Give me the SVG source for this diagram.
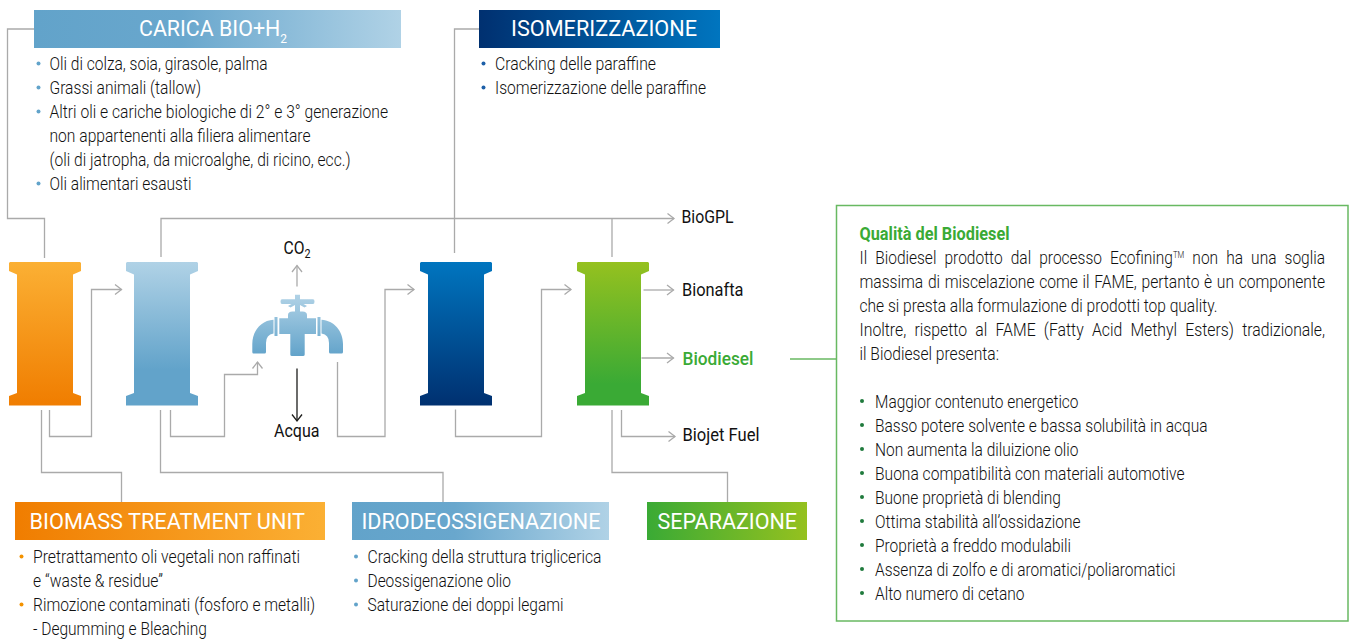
<svg xmlns="http://www.w3.org/2000/svg" width="1354" height="642" viewBox="0 0 1354 642">
<style>
text{font-family:"Roboto","Liberation Sans",sans-serif;fill:#111}
.l{font-size:18px;font-weight:300}
.h{font-size:21.5px;font-weight:400;fill:#fff}
.p{font-size:17.5px;font-weight:400}
.b{fill:none;stroke:#aaa;stroke-width:1.3}
.k{fill:none;stroke:#1d1d1b;stroke-width:1.3}
.g{fill:none;stroke:#68b962;stroke-width:1.5}
.sub{font-size:12px}
</style>
<defs>
<marker id="a" markerWidth="12" markerHeight="12" refX="8" refY="6" orient="auto" markerUnits="userSpaceOnUse" viewBox="0 0 12 12"><path d="M1.500 1L8 6L1.500 11" fill="none" stroke="#aaa" stroke-width="1.3"/></marker>
<marker id="ak" markerWidth="12" markerHeight="12" refX="8" refY="6" orient="auto" markerUnits="userSpaceOnUse" viewBox="0 0 12 12"><path d="M1.500 1L8 6L1.500 11" fill="none" stroke="#1d1d1b" stroke-width="1.3"/></marker>
<linearGradient id="vo" x1="0" y1="0" x2="0" y2="1"><stop offset="0" stop-color="#fbb034"/><stop offset="1" stop-color="#f07d00"/></linearGradient>
<linearGradient id="vl" x1="0" y1="0" x2="0" y2="1"><stop offset="0" stop-color="#b0d2e6"/><stop offset=".75" stop-color="#62a3ca"/><stop offset="1" stop-color="#62a3ca"/></linearGradient>
<linearGradient id="vd" x1="0" y1="0" x2="0" y2="1"><stop offset="0" stop-color="#0075bf"/><stop offset="1" stop-color="#003070"/></linearGradient>
<linearGradient id="vg" x1="0" y1="0" x2="0" y2="1"><stop offset="0" stop-color="#95c11f"/><stop offset=".85" stop-color="#3aaa35"/><stop offset="1" stop-color="#3aaa35"/></linearGradient>
<linearGradient id="ho" x1="0" y1="0" x2="1" y2="0"><stop offset="0" stop-color="#f07d00"/><stop offset="1" stop-color="#fbb034"/></linearGradient>
<linearGradient id="hl" x1="0" y1="0" x2="1" y2="0"><stop offset="0" stop-color="#62a3ca"/><stop offset=".4" stop-color="#69a7cd"/><stop offset="1" stop-color="#b0d2e6"/></linearGradient>
<linearGradient id="hd" x1="0" y1="0" x2="1" y2="0"><stop offset="0" stop-color="#003070"/><stop offset="1" stop-color="#0075bf"/></linearGradient>
<linearGradient id="hg" x1="0" y1="0" x2="1" y2="0"><stop offset="0" stop-color="#3aaa35"/><stop offset="1" stop-color="#95c11f"/></linearGradient>
<linearGradient id="vv" gradientUnits="userSpaceOnUse" x1="0" y1="295" x2="0" y2="356"><stop offset="0" stop-color="#b0d2e6"/><stop offset="1" stop-color="#62a3ca"/></linearGradient>
<path id="col" d="M1 0H71L72 1V9L64 12.500V131L72 134V143.500H0V134L8 131V12.500L0 9V1Z"/>
</defs>

<g id="connectors">
<path class="b" d="M34 29H7.500V218.500H44.500V258"/>
<path class="b" d="M479 29H454.500V253"/>
<path class="b" d="M161 257V218.500H674" marker-end="url(#a)"/>
<path class="b" d="M612 218.500V257"/>
<path class="b" d="M49.500 410V436.500H91.500V289.500H121.500" marker-end="url(#a)"/>
<path class="b" d="M41.500 410V472.500H121.500V502"/>
<path class="b" d="M160.500 410V472.500H443V502"/>
<path class="b" d="M170.500 410V436.500H224.500V374.500H257.500V362" marker-end="url(#a)"/>
<path class="b" d="M337.500 362V436.500H385V289.500H414" marker-end="url(#a)"/>
<path class="b" d="M455.500 409.500V436.500H541.500V289.500H571" marker-end="url(#a)"/>
<path class="b" d="M643.500 290H673.500" marker-end="url(#a)"/>
<path class="b" d="M641.500 358H673.500" marker-end="url(#a)"/>
<path class="b" d="M621.500 410V436.500H675" marker-end="url(#a)"/>
<path class="b" d="M612 410V472.500H727.500V502"/>
<path class="b" d="M297 286.500V265.500" marker-end="url(#a)"/>
<path class="k" d="M297 368.500V421" marker-end="url(#ak)"/>
<path class="g" d="M790 359H836"/>
</g>

<g id="col-biomass"><use href="#col" x="9" y="262" fill="url(#vo)"/></g>
<g id="col-idro"><use href="#col" x="126" y="262" fill="url(#vl)"/></g>
<g id="col-iso"><use href="#col" x="420" y="262" fill="url(#vd)"/></g>
<g id="col-sep"><use href="#col" x="577" y="262" fill="url(#vg)"/></g>

<g id="valve" fill="url(#vv)">
<path d="M295 294.700H300V299.300H313Q314.500 299.300 314.500 301.500Q314.500 304 313 304H303.500L307 306L304.500 307.500L300 305V311.500H302.500Q307 311.500 307 315V318.300H316V334H304.700V354.500Q304.700 356 303 356H292Q290.300 356 290.300 354.500V334H279.300V318.300H288V315Q288 311.500 292.500 311.500H295V305L290.500 307.500L288 306L291.500 304H282Q280.500 304 280.500 301.500Q280.500 299.300 282 299.300H295Z"/>
<path d="M273.500 319.800V333.500Q266 334.500 266 343V352Q266 353.500 264.500 353.500H253.500Q252.300 353.500 252.300 352V344C252.300 331 261 320.500 273.500 319.800Z"/>
<path d="M321.500 319.800V333.500Q329 334.500 329 343V352Q329 353.500 330.500 353.500H341.500Q343 353.500 343 352V344C343 331 334 320.500 321.500 319.800Z"/>
<rect x="274.500" y="317" width="3" height="19"/>
<rect x="317.500" y="317" width="3" height="19"/>
</g>

<g id="carica">
<rect x="34" y="10" width="367" height="38" fill="url(#hl)"/>
<text class="h" x="139" y="36" textLength="148" lengthAdjust="spacingAndGlyphs">CARICA BIO+H<tspan class="sub" dy="7">2</tspan></text>
<g fill="#62a3ca"><circle cx="38.500" cy="63.500" r="2"/><circle cx="38.500" cy="87.500" r="2"/><circle cx="38.500" cy="111.500" r="2"/><circle cx="38.500" cy="183.500" r="2"/></g>
<text class="l" x="49.500" y="70" textLength="218" lengthAdjust="spacingAndGlyphs">Oli di colza, soia, girasole, palma</text>
<text class="l" x="49.500" y="94" textLength="151.500" lengthAdjust="spacingAndGlyphs">Grassi animali (tallow)</text>
<text class="l" x="49.500" y="118" textLength="338.500" lengthAdjust="spacingAndGlyphs">Altri oli e cariche biologiche di 2° e 3° generazione</text>
<text class="l" x="49.500" y="142" textLength="261" lengthAdjust="spacingAndGlyphs">non appartenenti alla filiera alimentare</text>
<text class="l" x="49.500" y="166" textLength="301" lengthAdjust="spacingAndGlyphs">(oli di jatropha, da microalghe, di ricino, ecc.)</text>
<text class="l" x="49.500" y="190" textLength="142" lengthAdjust="spacingAndGlyphs">Oli alimentari esausti</text>
</g>

<g id="isomerizzazione">
<rect x="479" y="10" width="241" height="38" fill="url(#hd)"/>
<text class="h" x="511" y="36" textLength="186" lengthAdjust="spacingAndGlyphs">ISOMERIZZAZIONE</text>
<g fill="#1d5fa8"><circle cx="483.500" cy="63.500" r="2"/><circle cx="483.500" cy="87.500" r="2"/></g>
<text class="l" x="495" y="70" textLength="161" lengthAdjust="spacingAndGlyphs">Cracking delle paraffine</text>
<text class="l" x="495" y="94" textLength="211" lengthAdjust="spacingAndGlyphs">Isomerizzazione delle paraffine</text>
</g>

<g id="biomass">
<rect x="15" y="502" width="310" height="38" fill="url(#ho)"/>
<text class="h" x="29.500" y="528.500" textLength="275.500" lengthAdjust="spacingAndGlyphs">BIOMASS TREATMENT UNIT</text>
<g fill="#f39200"><circle cx="21.500" cy="556.500" r="2"/><circle cx="21.500" cy="604.500" r="2"/></g>
<text class="l" x="33" y="563" textLength="267" lengthAdjust="spacingAndGlyphs">Pretrattamento oli vegetali non raffinati</text>
<text class="l" x="33" y="587" textLength="130" lengthAdjust="spacingAndGlyphs">e “waste &amp; residue”</text>
<text class="l" x="33" y="611" textLength="282" lengthAdjust="spacingAndGlyphs">Rimozione contaminati (fosforo e metalli)</text>
<text class="l" x="33" y="635" textLength="174" lengthAdjust="spacingAndGlyphs">- Degumming e Bleaching</text>
</g>

<g id="idrodeossigenazione">
<rect x="352" y="502" width="257" height="38" fill="url(#hl)"/>
<text class="h" x="361.500" y="528.500" textLength="239" lengthAdjust="spacingAndGlyphs">IDRODEOSSIGENAZIONE</text>
<g fill="#62a3ca"><circle cx="356" cy="556.500" r="2"/><circle cx="356" cy="580.500" r="2"/><circle cx="356" cy="604.500" r="2"/></g>
<text class="l" x="367.500" y="563" textLength="234" lengthAdjust="spacingAndGlyphs">Cracking della struttura triglicerica</text>
<text class="l" x="367.500" y="587" textLength="143.500" lengthAdjust="spacingAndGlyphs">Deossigenazione olio</text>
<text class="l" x="367.500" y="611" textLength="196" lengthAdjust="spacingAndGlyphs">Saturazione dei doppi legami</text>
</g>

<g id="separazione">
<rect x="647" y="502" width="160" height="38" fill="url(#hg)"/>
<text class="h" x="657.500" y="528.500" textLength="139.500" lengthAdjust="spacingAndGlyphs">SEPARAZIONE</text>
</g>

<g id="outputs">
<text class="p" x="681.500" y="223" textLength="52" lengthAdjust="spacingAndGlyphs">BioGPL</text>
<text class="p" x="682" y="296" textLength="61.500" lengthAdjust="spacingAndGlyphs">Bionafta</text>
<text class="p" x="682.500" y="365" textLength="71" lengthAdjust="spacingAndGlyphs" style="fill:#3aaa35;font-weight:500">Biodiesel</text>
<text class="p" x="682.500" y="441" textLength="77" lengthAdjust="spacingAndGlyphs">Biojet Fuel</text>
<text class="p" x="283.500" y="253.500" textLength="27" lengthAdjust="spacingAndGlyphs">CO<tspan class="sub" dy="4">2</tspan></text>
<text class="p" x="274" y="436.500" textLength="45.500" lengthAdjust="spacingAndGlyphs">Acqua</text>
</g>

<g id="qualita">
<rect x="836.500" y="205.500" width="511.500" height="415.500" fill="none" stroke="#68b962" stroke-width="1.5"/>
<text class="p" x="859.500" y="240" textLength="150" lengthAdjust="spacingAndGlyphs" style="fill:#3aaa35;font-weight:700">Qualità del Biodiesel</text>
<text class="l" transform="translate(859.500 264) scale(.86 1)" textLength="541.300" lengthAdjust="spacingAndGlyphs" word-spacing="5">Il Biodiesel prodotto dal processo Ecofining<tspan font-size="9" dy="-6">TM</tspan><tspan dy="6"> non ha una soglia</tspan></text>
<text class="l" transform="translate(859.500 288) scale(.86 1)" textLength="541.300" lengthAdjust="spacingAndGlyphs" word-spacing="1">massima di miscelazione come il FAME, pertanto è un componente</text>
<text class="l" x="859.500" y="312" textLength="358" lengthAdjust="spacingAndGlyphs">che si presta alla formulazione di prodotti top quality.</text>
<text class="l" transform="translate(859.500 336) scale(.86 1)" textLength="541.300" lengthAdjust="spacingAndGlyphs" word-spacing="5">Inoltre, rispetto al FAME (Fatty Acid Methyl Esters) tradizionale,</text>
<text class="l" x="859.500" y="360" textLength="139.500" lengthAdjust="spacingAndGlyphs">il Biodiesel presenta:</text>
<g fill="#1f7a3d"><circle cx="862" cy="401" r="2"/><circle cx="862" cy="425" r="2"/><circle cx="862" cy="449" r="2"/><circle cx="862" cy="473" r="2"/><circle cx="862" cy="497" r="2"/><circle cx="862" cy="521" r="2"/><circle cx="862" cy="545" r="2"/><circle cx="862" cy="569" r="2"/><circle cx="862" cy="593" r="2"/></g>
<text class="l" x="875" y="408" textLength="203.500" lengthAdjust="spacingAndGlyphs">Maggior contenuto energetico</text>
<text class="l" x="875" y="432" textLength="332.500" lengthAdjust="spacingAndGlyphs">Basso potere solvente e bassa solubilità in acqua</text>
<text class="l" x="875" y="456" textLength="203.500" lengthAdjust="spacingAndGlyphs">Non aumenta la diluizione olio</text>
<text class="l" x="875" y="480" textLength="309.500" lengthAdjust="spacingAndGlyphs">Buona compatibilità con materiali automotive</text>
<text class="l" x="875" y="504" textLength="186" lengthAdjust="spacingAndGlyphs">Buone proprietà di blending</text>
<text class="l" x="875" y="528" textLength="205.500" lengthAdjust="spacingAndGlyphs">Ottima stabilità all’ossidazione</text>
<text class="l" x="875" y="552" textLength="196" lengthAdjust="spacingAndGlyphs">Proprietà a freddo modulabili</text>
<text class="l" x="875" y="576" textLength="300.500" lengthAdjust="spacingAndGlyphs">Assenza di zolfo e di aromatici/poliaromatici</text>
<text class="l" x="875" y="600" textLength="149.500" lengthAdjust="spacingAndGlyphs">Alto numero di cetano</text>
</g>
</svg>
